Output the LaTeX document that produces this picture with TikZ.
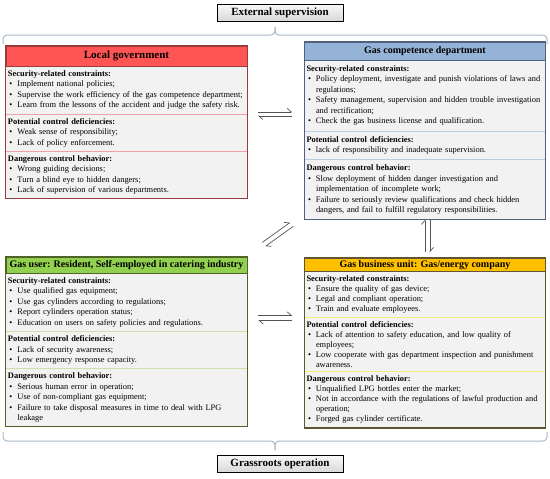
\documentclass[tikz,border=0pt]{standalone}
\usepackage{fontspec}
\setmainfont{Liberation Serif}
\usetikzlibrary{positioning,fit,calc,arrows.meta}
\definecolor{lgred}{RGB}{255,85,85}
\definecolor{lgedge}{RGB}{150,60,60}
\definecolor{lgline}{RGB}{240,160,170}
\definecolor{gcblue}{RGB}{149,179,215}
\definecolor{gcedge}{RGB}{80,97,128}
\definecolor{gcline}{RGB}{184,204,228}
\definecolor{gugreen}{RGB}{146,208,80}
\definecolor{guedge}{RGB}{79,98,40}
\definecolor{guline}{RGB}{205,225,175}
\definecolor{gbgold}{RGB}{255,192,0}
\definecolor{gbedge}{RGB}{95,85,50}
\definecolor{gbline}{RGB}{245,235,120}
\definecolor{bodygray}{RGB}{242,242,242}
\definecolor{bracegray}{RGB}{170,185,200}
\definecolor{arrowgray}{RGB}{85,85,85}
\newcommand\itm{\par\hangindent=9.5pt\hangafter=1\noindent\makebox[9.5pt][l]{\hspace{1.5pt}\textbullet}}
\newcommand\hd[1]{\noindent\textbf{#1}}
\begin{document}
\begin{tikzpicture}[x=1pt,y=-1pt,
    head/.style={anchor=north,minimum width=241pt,inner sep=0pt,font=\bfseries\fontsize{10}{12}\selectfont},
    sect/.style={below=0pt of #1,fill=bodygray,text width=237pt,inner xsep=2pt,inner ysep=4pt,align=left,font=\fontsize{8.4}{10.5}\selectfont},
    frame/.style={inner sep=0pt,line width=1.2pt},
    sep/.style={line width=0.8pt},
    tag/.style={draw,line width=0.8pt,top color=gray!5,bottom color=gray!30,minimum width=126pt,minimum height=17pt,inner sep=0pt,font=\bfseries\fontsize{11}{13}\selectfont},
    curly/.style={draw=bracegray,line width=1pt,rounded corners=4pt},
    harp/.style={draw=arrowgray,line width=0.7pt,-{Straight Barb[harpoon,length=4pt,width=7pt]}}]
\useasboundingbox (0,0) rectangle (550,479);
\draw[curly] (3,44) -- (3,35) -- (275,35) -- (275,27);
\draw[curly] (275,27) -- (275,35) -- (547,35) -- (547,44);
\draw[curly] (3,432) -- (3,441) -- (275,441) -- (275,450);
\draw[curly] (275,450) -- (275,441) -- (547,441) -- (547,432);
\node[tag] (ext) at (280,12.5) {External supervision};
\node[tag] (grass) at (280,463.5) {Grassroots operation};

\node[head,fill=lgred,draw=lgedge,minimum height=20pt,font=\bfseries\fontsize{11}{13}\selectfont] (lghead) at (126.5,46) {Local government};
\node[sect=lghead] (lgsec) {\hd{Security-related constraints:}\itm Implement national policies;\itm Supervise the work efficiency of the gas competence department;\itm Learn from the lessons of the accident and judge the safety risk.\par};
\node[sect=lgsec] (lgpot) {\hd{Potential control deficiencies:}\itm Weak sense of responsibility;\itm Lack of policy enforcement.\par};
\node[sect=lgpot] (lgdang) {\hd{Dangerous control behavior:}\itm Wrong guiding decisions;\itm Turn a blind eye to hidden dangers;\itm Lack of supervision of various departments.\par};
\draw[sep,lgline] (lgpot.north west) -- (lgpot.north east) (lgdang.north west) -- (lgdang.north east);
\node[frame,draw=lgedge,fit=(lghead)(lgdang)] (lg) {};

\node[head,fill=gcblue,draw=gcedge,minimum height=18pt] (gchead) at (425,42) {Gas competence department};
\node[sect=gchead,inner ysep=5pt] (gcsec) {\hd{Security-related constraints:}\itm Policy deployment, investigate and punish violations of laws and\newline regulations;\itm Safety management, supervision and hidden trouble investigation\newline and rectification;\itm Check the gas business license and qualification.\par};
\node[sect=gcsec,inner ysep=5pt] (gcpot) {\hd{Potential control deficiencies:}\itm lack of responsibility and inadequate supervision.\par};
\node[sect=gcpot,inner ysep=5pt] (gcdang) {\hd{Dangerous control behavior:}\itm Slow deployment of hidden danger investigation and\newline implementation of incomplete work;\itm Failure to seriously review qualifications and check hidden\newline dangers, and fail to fulfill regulatory responsibilities.\par};
\draw[sep,gcline] (gcpot.north west) -- (gcpot.north east) (gcdang.north west) -- (gcdang.north east);
\node[frame,draw=gcedge,fit=(gchead)(gcdang)] (gc) {};

\node[head,fill=gugreen,draw=guedge,minimum height=16pt] (guhead) at (126.5,257) {Gas user: Resident, Self-employed in catering industry};
\node[sect=guhead] (gusec) {\hd{Security-related constraints:}\itm Use qualified gas equipment;\itm Use gas cylinders according to regulations;\itm Report cylinders operation status;\itm Education on users on safety policies and regulations.\par};
\node[sect=gusec] (gupot) {\hd{Potential control deficiencies:}\itm Lack of security awareness;\itm Low emergency response capacity.\par};
\node[sect=gupot] (gudang) {\hd{Dangerous control behavior:}\itm Serious human error in operation;\itm Use of non-compliant gas equipment;\itm Failure to take disposal measures in time to deal with LPG\newline leakage\par};
\draw[sep,guline] (gupot.north west) -- (gupot.north east) (gudang.north west) -- (gudang.north east);
\node[frame,draw=guedge,fit=(guhead)(gudang)] (gu) {};

\node[head,fill=gbgold,draw=gbedge,minimum height=13pt] (gbhead) at (425,258) {Gas business unit: Gas/energy company};
\node[sect=gbhead,font=\fontsize{8.4}{10}\selectfont] (gbsec) {\hd{Security-related constraints:}\itm Ensure the quality of gas device;\itm Legal and compliant operation;\itm Train and evaluate employees.\par};
\node[sect=gbsec,font=\fontsize{8.4}{10}\selectfont] (gbpot) {\hd{Potential control deficiencies:}\itm Lack of attention to safety education, and low quality of\newline employees;\itm Low cooperate with gas department inspection and punishment\newline awareness.\par};
\node[sect=gbpot,font=\fontsize{8.4}{10}\selectfont] (gbdang) {\hd{Dangerous control behavior:}\itm Unqualified LPG bottles enter the market;\itm Not in accordance with the regulations of lawful production and\newline operation;\itm Forged gas cylinder certificate.\par};
\draw[sep,gbline] (gbpot.north west) -- (gbpot.north east) (gbdang.north west) -- (gbdang.north east);
\node[frame,draw=gbedge,fit=(gbhead)(gbdang)] (gb) {};

\coordinate (h1) at ($(lg.east |- lgpot.north)+(10,0)$);
\coordinate (h2) at ($(gc.west |- lgpot.north)+(-11.5,0)$);
\draw[harp] ([yshift=2pt]h1) -- ([yshift=2pt]h2);
\draw[harp] ([yshift=-2pt]h2) -- ([yshift=-2pt]h1);
\coordinate (v1) at ($(gb.north)+(2.5,-38)$);
\coordinate (v2) at ($(gb.north)+(2.5,-5)$);
\draw[harp] ([xshift=-2.5pt]v2) -- ([xshift=-2.5pt]v1);
\draw[harp] ([xshift=2.5pt]v1) -- ([xshift=2.5pt]v2);
\coordinate (d1) at ($(gu.north east)+(16,-12)$);
\coordinate (d2) at ($(gb.north west)+(-12,-33)$);
\draw[harp] ([xshift=-1.5pt,yshift=2pt]d1) -- ([xshift=-1.5pt,yshift=2pt]d2);
\draw[harp] ([xshift=1.5pt,yshift=-2pt]d2) -- ([xshift=1.5pt,yshift=-2pt]d1);
\coordinate (b1) at ($(gu.north east)+(10.5,61.5)$);
\coordinate (b2) at ($(gb.north west)+(-11.5,60.5)$);
\draw[harp] ([yshift=2.5pt]b1) -- ([yshift=2.5pt]b2);
\draw[harp] ([yshift=-2.5pt]b2) -- ([yshift=-2.5pt]b1);
\end{tikzpicture}
\end{document}
